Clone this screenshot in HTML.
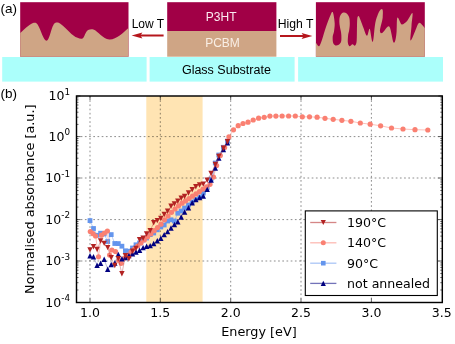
<!DOCTYPE html>
<html lang="en"><head><meta charset="utf-8"><title>Figure</title>
<style>html,body{margin:0;padding:0;background:#fff}body{width:455px;height:344px;overflow:hidden}svg{display:block;opacity:0.999;will-change:transform}.dv{font-family:"DejaVu Sans","Liberation Sans",sans-serif;fill:#000}.lb{font-family:"Liberation Sans",sans-serif;fill:#000}</style></head><body>
<svg width="455" height="344" viewBox="0 0 455 344">
<rect width="455" height="344" fill="#fff"/>
<g id="schematic">
<rect x="2.2" y="57" width="144.4" height="24.6" fill="#abfffb"/>
<rect x="149.6" y="57" width="145" height="24.6" fill="#abfffb"/>
<rect x="298.1" y="57" width="144.9" height="24.6" fill="#abfffb"/>
<rect x="20.2" y="2.2" width="108.3" height="54.5" fill="#a10046"/>
<path fill="#cfa585" d="M20.2 56.7V33 C24 29.5 29 24.6 33 23 C35 22.3 36.6 22.6 37.6 24.5 C41 30 43.5 40.8 46.6 40.8 C49.6 40.8 51.5 25 55 23 C57 22.2 59 22.4 61 24.2 C67 28.5 72 36 77.6 37.8 C79.5 38.6 81 39 82.5 38.5 C84.5 37.5 85.5 31 88.1 29.9 C90 29.2 92 29.2 93.4 29.5 C98 31 103 39 109.2 39.5 C116 40 123 33 128.5 28.1 V56.7Z"/>
<rect x="167.2" y="2.2" width="109.2" height="28.8" fill="#a10046"/>
<rect x="167.2" y="31" width="109.2" height="25.7" fill="#cfa585"/>
<rect x="315.9" y="2.2" width="108.9" height="54.5" fill="#a10046"/>
<path fill="#cfa585" d="M315.9 56.7V42.5C316.1 42.9 316.8 44.2 317.3 44.8C317.8 45.4 318.4 46.7 319.1 46.2C319.8 45.7 320.3 44.5 321.3 41.8C322.3 39.1 323.7 33.8 324.9 30.2C326.1 26.6 327.4 22.8 328.5 20.0C329.6 17.2 330.6 14.7 331.2 13.4C331.8 12.1 332.0 11.9 332.4 12.0C332.8 12.1 333.0 12.1 333.4 14.0C333.8 15.9 334.6 20.5 334.7 23.4C334.8 26.3 334.3 29.2 334.0 31.4C333.7 33.6 332.8 34.9 332.7 36.8C332.6 38.7 332.7 41.3 333.1 42.8C333.6 44.2 334.5 45.2 335.4 45.5C336.3 45.8 337.8 45.4 338.7 44.8C339.6 44.2 340.6 43.2 341.0 42.1C341.4 41.0 341.4 39.5 341.4 38.0C341.4 36.5 341.4 34.8 341.1 32.8C340.8 30.8 340.1 28.3 339.8 26.1C339.5 23.9 339.2 21.3 339.4 19.4C339.5 17.5 340.0 15.8 340.7 14.7C341.4 13.5 342.4 12.7 343.4 12.5C344.4 12.3 345.7 12.6 346.7 13.4C347.7 14.2 348.7 15.7 349.2 17.4C349.7 19.1 349.8 21.3 349.8 23.4C349.8 25.5 349.5 28.1 349.2 30.1C348.9 32.1 348.3 33.5 348.1 35.5C347.9 37.5 347.7 40.5 347.8 42.1C347.9 43.7 348.3 44.6 348.7 45.3C349.1 46.0 349.4 46.4 350.0 46.2C350.6 46.0 351.7 44.3 352.5 44.2C353.3 44.1 354.1 45.9 354.7 45.7C355.3 45.5 355.9 44.6 356.3 43.2C356.7 41.8 356.7 40.3 356.8 37.4C356.9 34.5 356.9 28.9 357.0 25.8C357.1 22.7 357.1 20.1 357.3 18.5C357.5 16.9 357.8 16.3 358.2 16.2C358.6 16.1 358.7 15.8 359.6 17.8C360.5 19.8 362.9 26.3 363.5 28.0 C364.8 31.5 366 35.8 367 35.8 C368 35.8 368.8 28.8 369.6 28.8 C370.5 28.8 371.5 41.9 372.6 41.9 C373.6 41.9 374 32 374.8 26.2 C375.5 21 376.3 18.5 377.4 15.7 C378.6 12.5 380.5 9.1 381.8 9.1 C383.2 9.1 383 13.5 382.7 17.4 C382.3 22 379.5 29 380 31.4 C380.3 33 381 33.3 381.8 33.1 C384 32.5 386.5 26.2 388.8 26.2 C391 26.2 392.5 42.7 394 42.7 C395.3 42.7 396.3 36 396.6 31.4 C397 26 396.6 17.4 397.5 17.4 C398.8 17.4 400.5 24.4 401.9 24.4 C403.5 24.4 405.5 22.5 407.1 20.9 C409 19 411.3 13.1 412.3 13.1 C413.3 13.1 411.8 21 411.5 26.2 C411.2 31 409.8 40.5 410.6 40.5 C411.6 40.5 413.5 34.5 415 31.4 C416.5 28 418 22.7 419.3 22.7 C421 22.7 423 26 424.8 27.9 V56.7Z"/>
<path d="M163.6 35.5H139" stroke="#b5161c" stroke-width="2" fill="none"/>
<path d="M131.6 35.5L142.4 32.5L140.4 35.5L142.4 38.5Z" fill="#b5161c"/>
<path d="M280 36H305" stroke="#b5161c" stroke-width="2" fill="none"/>
<path d="M312.4 36L301.6 33L303.6 36L301.6 39Z" fill="#b5161c"/>
<text class="lb" x="0.5" y="13" font-size="13.5">(a)</text>
<text class="lb" x="147.9" y="27.5" font-size="12" text-anchor="middle">Low T</text>
<text class="lb" x="295.5" y="28.3" font-size="12.2" text-anchor="middle">High T</text>
<text class="lb" x="221.2" y="20.9" font-size="12" text-anchor="middle" style="fill:#fbeaf0">P3HT</text>
<text class="lb" x="222.5" y="47.1" font-size="12" text-anchor="middle" style="fill:#f9efe6">PCBM</text>
<text class="lb" x="226.4" y="73.7" font-size="12.5" text-anchor="middle">Glass Substrate</text>
</g>
<g id="plot">
<text class="lb" x="0.5" y="97.5" font-size="13.5">(b)</text>
<rect x="146.3" y="96.0" width="56.3" height="206.5" fill="#ffe4b3"/>
<path d="M90.0 96.0V302.5M160.3 96.0V302.5M230.7 96.0V302.5M301.0 96.0V302.5M371.4 96.0V302.5M76.5 136.6H442.3M76.5 178.0H442.3M76.5 219.6H442.3M76.5 261.0H442.3" stroke="#000" stroke-opacity="0.5" stroke-width="0.9" stroke-dasharray="1.7 2.5" fill="none"/>
<path d="M90.0 302.5v-4M90.0 96.0v4M160.3 302.5v-4M160.3 96.0v4M230.7 302.5v-4M230.7 96.0v4M301.0 302.5v-4M301.0 96.0v4M371.4 302.5v-4M371.4 96.0v4M76.5 96.0h4M442.3 96.0h-4M76.5 136.6h4M442.3 136.6h-4M76.5 178.0h4M442.3 178.0h-4M76.5 219.6h4M442.3 219.6h-4M76.5 261.0h4M442.3 261.0h-4M76.5 302.5h4M442.3 302.5h-4M76.5 124.4h2M442.3 124.4h-2M76.5 117.2h2M442.3 117.2h-2M76.5 112.2h2M442.3 112.2h-2M76.5 108.2h2M442.3 108.2h-2M76.5 105.0h2M442.3 105.0h-2M76.5 102.3h2M442.3 102.3h-2M76.5 99.9h2M442.3 99.9h-2M76.5 97.9h2M442.3 97.9h-2M76.5 165.5h2M442.3 165.5h-2M76.5 158.2h2M442.3 158.2h-2M76.5 153.1h2M442.3 153.1h-2M76.5 149.1h2M442.3 149.1h-2M76.5 145.8h2M442.3 145.8h-2M76.5 143.0h2M442.3 143.0h-2M76.5 140.6h2M442.3 140.6h-2M76.5 138.5h2M442.3 138.5h-2M76.5 207.1h2M442.3 207.1h-2M76.5 199.8h2M442.3 199.8h-2M76.5 194.6h2M442.3 194.6h-2M76.5 190.5h2M442.3 190.5h-2M76.5 187.2h2M442.3 187.2h-2M76.5 184.4h2M442.3 184.4h-2M76.5 182.0h2M442.3 182.0h-2M76.5 179.9h2M442.3 179.9h-2M76.5 248.5h2M442.3 248.5h-2M76.5 241.2h2M442.3 241.2h-2M76.5 236.1h2M442.3 236.1h-2M76.5 232.1h2M442.3 232.1h-2M76.5 228.8h2M442.3 228.8h-2M76.5 226.0h2M442.3 226.0h-2M76.5 223.6h2M442.3 223.6h-2M76.5 221.5h2M442.3 221.5h-2M76.5 290.0h2M442.3 290.0h-2M76.5 282.7h2M442.3 282.7h-2M76.5 277.5h2M442.3 277.5h-2M76.5 273.5h2M442.3 273.5h-2M76.5 270.2h2M442.3 270.2h-2M76.5 267.4h2M442.3 267.4h-2M76.5 265.0h2M442.3 265.0h-2M76.5 262.9h2M442.3 262.9h-2" stroke="#000" stroke-width="0.6" fill="none"/>
<polyline points="90.0,220.6 93.5,228.5 97.1,235.3 100.6,233.2 104.2,234.0 107.7,241.5 111.2,234.6 114.8,243.5 118.3,243.6 121.9,246.2 125.4,250.8 128.9,251.2 132.5,248.0 136.0,244.8 139.6,243.0 143.1,240.0 146.6,238.0 150.2,234.6 153.7,233.0 157.3,229.8 160.8,227.0 164.2,225.0 167.6,221.0 171.0,219.8 174.4,221.0 177.8,213.2 181.2,211.0 184.6,208.0 188.5,205.0 192.2,202.0 195.8,199.5 199.6,197.0 203.3,193.0 207.2,187.5 211.1,179.0 215.3,163.0 218.8,155.0 223.4,147.3 227.5,141.0" fill="none" stroke="#6495ed" stroke-opacity="0.50" stroke-width="0.9"/>
<g><rect x="87.6" y="218.2" width="4.8" height="4.8" fill="#6495ed"/><rect x="91.1" y="226.1" width="4.8" height="4.8" fill="#6495ed"/><rect x="94.7" y="232.9" width="4.8" height="4.8" fill="#6495ed"/><rect x="98.2" y="230.8" width="4.8" height="4.8" fill="#6495ed"/><rect x="101.8" y="231.6" width="4.8" height="4.8" fill="#6495ed"/><rect x="105.3" y="239.1" width="4.8" height="4.8" fill="#6495ed"/><rect x="108.8" y="232.2" width="4.8" height="4.8" fill="#6495ed"/><rect x="112.4" y="241.1" width="4.8" height="4.8" fill="#6495ed"/><rect x="115.9" y="241.2" width="4.8" height="4.8" fill="#6495ed"/><rect x="119.5" y="243.8" width="4.8" height="4.8" fill="#6495ed"/><rect x="123.0" y="248.4" width="4.8" height="4.8" fill="#6495ed"/><rect x="126.5" y="248.8" width="4.8" height="4.8" fill="#6495ed"/><rect x="130.1" y="245.6" width="4.8" height="4.8" fill="#6495ed"/><rect x="133.6" y="242.4" width="4.8" height="4.8" fill="#6495ed"/><rect x="137.2" y="240.6" width="4.8" height="4.8" fill="#6495ed"/><rect x="140.7" y="237.6" width="4.8" height="4.8" fill="#6495ed"/><rect x="144.2" y="235.6" width="4.8" height="4.8" fill="#6495ed"/><rect x="147.8" y="232.2" width="4.8" height="4.8" fill="#6495ed"/><rect x="151.3" y="230.6" width="4.8" height="4.8" fill="#6495ed"/><rect x="154.9" y="227.4" width="4.8" height="4.8" fill="#6495ed"/><rect x="158.4" y="224.6" width="4.8" height="4.8" fill="#6495ed"/><rect x="161.8" y="222.6" width="4.8" height="4.8" fill="#6495ed"/><rect x="165.2" y="218.6" width="4.8" height="4.8" fill="#6495ed"/><rect x="168.6" y="217.4" width="4.8" height="4.8" fill="#6495ed"/><rect x="172.0" y="218.6" width="4.8" height="4.8" fill="#6495ed"/><rect x="175.4" y="210.8" width="4.8" height="4.8" fill="#6495ed"/><rect x="178.8" y="208.6" width="4.8" height="4.8" fill="#6495ed"/><rect x="182.2" y="205.6" width="4.8" height="4.8" fill="#6495ed"/><rect x="186.1" y="202.6" width="4.8" height="4.8" fill="#6495ed"/><rect x="189.8" y="199.6" width="4.8" height="4.8" fill="#6495ed"/><rect x="193.4" y="197.1" width="4.8" height="4.8" fill="#6495ed"/><rect x="197.2" y="194.6" width="4.8" height="4.8" fill="#6495ed"/><rect x="200.9" y="190.6" width="4.8" height="4.8" fill="#6495ed"/><rect x="204.8" y="185.1" width="4.8" height="4.8" fill="#6495ed"/><rect x="208.7" y="176.6" width="4.8" height="4.8" fill="#6495ed"/><rect x="212.9" y="160.6" width="4.8" height="4.8" fill="#6495ed"/><rect x="216.4" y="152.6" width="4.8" height="4.8" fill="#6495ed"/><rect x="221.0" y="144.9" width="4.8" height="4.8" fill="#6495ed"/><rect x="225.1" y="138.6" width="4.8" height="4.8" fill="#6495ed"/></g>
<polyline points="90.3,231.5 93.0,233.7 95.6,236.0 98.5,256.8 101.5,235.2 104.4,233.0 107.4,231.0 109.6,255.0 111.9,250.0 115.5,251.5 118.9,260.3 121.2,263.3 124.5,258.0 127.8,255.0 131.1,252.0 134.4,249.0 137.7,246.0 141.0,243.0 144.3,239.9 147.6,236.8 150.9,233.8 154.2,230.7 157.5,227.6 161.0,224.2 164.5,219.8 168.0,216.0 171.5,212.3 175.0,209.0 178.5,205.8 182.0,203.2 185.5,200.9 189.0,198.6 192.5,196.2 196.0,193.9 199.5,191.5 203.0,189.1 206.5,186.8 210.0,184.3 213.5,177.0 216.6,165.5 220.3,155.5 224.6,147.5 228.9,136.8 233.5,129.8 238.2,125.7 243.0,123.5 248.0,122.2 253.2,120.0 258.6,118.2 264.2,117.3 269.9,116.1 275.9,116.1 282.1,116.0 288.6,116.0 295.3,116.0 302.3,116.8 309.5,116.8 317.1,117.2 325.0,118.3 333.2,119.3 341.9,120.3 350.9,121.3 360.3,123.0 370.2,124.2 380.6,125.8 391.5,128.0 403.0,129.0 415.0,129.7 427.8,130.0" fill="none" stroke="#fa8072" stroke-opacity="0.55" stroke-width="0.9"/>
<g><circle cx="90.3" cy="231.5" r="2.6" fill="#fa8072"/><circle cx="93.0" cy="233.7" r="2.6" fill="#fa8072"/><circle cx="95.6" cy="236.0" r="2.6" fill="#fa8072"/><circle cx="98.5" cy="256.8" r="2.6" fill="#fa8072"/><circle cx="101.5" cy="235.2" r="2.6" fill="#fa8072"/><circle cx="104.4" cy="233.0" r="2.6" fill="#fa8072"/><circle cx="107.4" cy="231.0" r="2.6" fill="#fa8072"/><circle cx="109.6" cy="255.0" r="2.6" fill="#fa8072"/><circle cx="111.9" cy="250.0" r="2.6" fill="#fa8072"/><circle cx="115.5" cy="251.5" r="2.6" fill="#fa8072"/><circle cx="118.9" cy="260.3" r="2.6" fill="#fa8072"/><circle cx="121.2" cy="263.3" r="2.6" fill="#fa8072"/><circle cx="124.5" cy="258.0" r="2.6" fill="#fa8072"/><circle cx="127.8" cy="255.0" r="2.6" fill="#fa8072"/><circle cx="131.1" cy="252.0" r="2.6" fill="#fa8072"/><circle cx="134.4" cy="249.0" r="2.6" fill="#fa8072"/><circle cx="137.7" cy="246.0" r="2.6" fill="#fa8072"/><circle cx="141.0" cy="243.0" r="2.6" fill="#fa8072"/><circle cx="144.3" cy="239.9" r="2.6" fill="#fa8072"/><circle cx="147.6" cy="236.8" r="2.6" fill="#fa8072"/><circle cx="150.9" cy="233.8" r="2.6" fill="#fa8072"/><circle cx="154.2" cy="230.7" r="2.6" fill="#fa8072"/><circle cx="157.5" cy="227.6" r="2.6" fill="#fa8072"/><circle cx="161.0" cy="224.2" r="2.6" fill="#fa8072"/><circle cx="164.5" cy="219.8" r="2.6" fill="#fa8072"/><circle cx="168.0" cy="216.0" r="2.6" fill="#fa8072"/><circle cx="171.5" cy="212.3" r="2.6" fill="#fa8072"/><circle cx="175.0" cy="209.0" r="2.6" fill="#fa8072"/><circle cx="178.5" cy="205.8" r="2.6" fill="#fa8072"/><circle cx="182.0" cy="203.2" r="2.6" fill="#fa8072"/><circle cx="185.5" cy="200.9" r="2.6" fill="#fa8072"/><circle cx="189.0" cy="198.6" r="2.6" fill="#fa8072"/><circle cx="192.5" cy="196.2" r="2.6" fill="#fa8072"/><circle cx="196.0" cy="193.9" r="2.6" fill="#fa8072"/><circle cx="199.5" cy="191.5" r="2.6" fill="#fa8072"/><circle cx="203.0" cy="189.1" r="2.6" fill="#fa8072"/><circle cx="206.5" cy="186.8" r="2.6" fill="#fa8072"/><circle cx="210.0" cy="184.3" r="2.6" fill="#fa8072"/><circle cx="213.5" cy="177.0" r="2.6" fill="#fa8072"/><circle cx="216.6" cy="165.5" r="2.6" fill="#fa8072"/><circle cx="220.3" cy="155.5" r="2.6" fill="#fa8072"/><circle cx="224.6" cy="147.5" r="2.6" fill="#fa8072"/><circle cx="228.9" cy="136.8" r="2.6" fill="#fa8072"/><circle cx="233.5" cy="129.8" r="2.6" fill="#fa8072"/><circle cx="238.2" cy="125.7" r="2.6" fill="#fa8072"/><circle cx="243.0" cy="123.5" r="2.6" fill="#fa8072"/><circle cx="248.0" cy="122.2" r="2.6" fill="#fa8072"/><circle cx="253.2" cy="120.0" r="2.6" fill="#fa8072"/><circle cx="258.6" cy="118.2" r="2.6" fill="#fa8072"/><circle cx="264.2" cy="117.3" r="2.6" fill="#fa8072"/><circle cx="269.9" cy="116.1" r="2.6" fill="#fa8072"/><circle cx="275.9" cy="116.1" r="2.6" fill="#fa8072"/><circle cx="282.1" cy="116.0" r="2.6" fill="#fa8072"/><circle cx="288.6" cy="116.0" r="2.6" fill="#fa8072"/><circle cx="295.3" cy="116.0" r="2.6" fill="#fa8072"/><circle cx="302.3" cy="116.8" r="2.6" fill="#fa8072"/><circle cx="309.5" cy="116.8" r="2.6" fill="#fa8072"/><circle cx="317.1" cy="117.2" r="2.6" fill="#fa8072"/><circle cx="325.0" cy="118.3" r="2.6" fill="#fa8072"/><circle cx="333.2" cy="119.3" r="2.6" fill="#fa8072"/><circle cx="341.9" cy="120.3" r="2.6" fill="#fa8072"/><circle cx="350.9" cy="121.3" r="2.6" fill="#fa8072"/><circle cx="360.3" cy="123.0" r="2.6" fill="#fa8072"/><circle cx="370.2" cy="124.2" r="2.6" fill="#fa8072"/><circle cx="380.6" cy="125.8" r="2.6" fill="#fa8072"/><circle cx="391.5" cy="128.0" r="2.6" fill="#fa8072"/><circle cx="403.0" cy="129.0" r="2.6" fill="#fa8072"/><circle cx="415.0" cy="129.7" r="2.6" fill="#fa8072"/><circle cx="427.8" cy="130.0" r="2.6" fill="#fa8072"/></g>
<polyline points="90.0,255.7 93.5,256.8 97.1,265.2 100.6,263.3 104.2,259.3 107.7,269.2 111.2,264.5 114.8,263.0 118.3,254.4 121.9,258.8 125.4,257.5 128.9,255.5 132.5,253.9 136.0,252.0 139.6,250.3 143.1,247.6 146.6,246.3 150.2,245.6 153.7,243.5 157.3,240.8 160.8,238.2 164.2,234.6 167.6,231.6 171.0,228.0 174.4,224.5 177.8,221.8 181.2,217.0 184.6,212.0 188.5,207.8 192.2,202.8 195.8,199.6 199.6,197.5 203.3,196.0 207.2,189.4 211.1,180.0 215.3,168.0 218.8,158.0 223.4,149.5 227.5,142.8" fill="none" stroke="#000080" stroke-opacity="0.30" stroke-width="0.9"/>
<g><path d="M87.3 258.4L92.7 258.4L90.0 253.0Z" fill="#000080"/><path d="M90.8 259.5L96.2 259.5L93.5 254.1Z" fill="#000080"/><path d="M94.4 267.9L99.8 267.9L97.1 262.5Z" fill="#000080"/><path d="M97.9 266.0L103.3 266.0L100.6 260.6Z" fill="#000080"/><path d="M101.5 262.0L106.9 262.0L104.2 256.6Z" fill="#000080"/><path d="M105.0 271.9L110.4 271.9L107.7 266.5Z" fill="#000080"/><path d="M108.5 267.2L113.9 267.2L111.2 261.8Z" fill="#000080"/><path d="M112.1 265.7L117.5 265.7L114.8 260.3Z" fill="#000080"/><path d="M115.6 257.1L121.0 257.1L118.3 251.7Z" fill="#000080"/><path d="M119.2 261.5L124.6 261.5L121.9 256.1Z" fill="#000080"/><path d="M122.7 260.2L128.1 260.2L125.4 254.8Z" fill="#000080"/><path d="M126.2 258.2L131.6 258.2L128.9 252.8Z" fill="#000080"/><path d="M129.8 256.6L135.2 256.6L132.5 251.2Z" fill="#000080"/><path d="M133.3 254.7L138.7 254.7L136.0 249.3Z" fill="#000080"/><path d="M136.9 253.0L142.3 253.0L139.6 247.6Z" fill="#000080"/><path d="M140.4 250.3L145.8 250.3L143.1 244.9Z" fill="#000080"/><path d="M143.9 249.0L149.3 249.0L146.6 243.6Z" fill="#000080"/><path d="M147.5 248.3L152.9 248.3L150.2 242.9Z" fill="#000080"/><path d="M151.0 246.2L156.4 246.2L153.7 240.8Z" fill="#000080"/><path d="M154.6 243.5L160.0 243.5L157.3 238.1Z" fill="#000080"/><path d="M158.1 240.9L163.5 240.9L160.8 235.5Z" fill="#000080"/><path d="M161.5 237.3L166.9 237.3L164.2 231.9Z" fill="#000080"/><path d="M164.9 234.3L170.3 234.3L167.6 228.9Z" fill="#000080"/><path d="M168.3 230.7L173.7 230.7L171.0 225.3Z" fill="#000080"/><path d="M171.7 227.2L177.1 227.2L174.4 221.8Z" fill="#000080"/><path d="M175.1 224.5L180.5 224.5L177.8 219.1Z" fill="#000080"/><path d="M178.5 219.7L183.9 219.7L181.2 214.3Z" fill="#000080"/><path d="M181.9 214.7L187.3 214.7L184.6 209.3Z" fill="#000080"/><path d="M185.8 210.5L191.2 210.5L188.5 205.1Z" fill="#000080"/><path d="M189.5 205.5L194.9 205.5L192.2 200.1Z" fill="#000080"/><path d="M193.1 202.3L198.5 202.3L195.8 196.9Z" fill="#000080"/><path d="M196.9 200.2L202.3 200.2L199.6 194.8Z" fill="#000080"/><path d="M200.6 198.7L206.0 198.7L203.3 193.3Z" fill="#000080"/><path d="M204.5 192.1L209.9 192.1L207.2 186.7Z" fill="#000080"/><path d="M208.4 182.7L213.8 182.7L211.1 177.3Z" fill="#000080"/><path d="M212.6 170.7L218.0 170.7L215.3 165.3Z" fill="#000080"/><path d="M216.1 160.7L221.5 160.7L218.8 155.3Z" fill="#000080"/><path d="M220.7 152.2L226.1 152.2L223.4 146.8Z" fill="#000080"/><path d="M224.8 145.5L230.2 145.5L227.5 140.1Z" fill="#000080"/></g>
<polyline points="90.0,249.9 93.5,246.7 97.1,249.5 100.6,241.0 104.2,243.4 107.7,247.6 111.2,257.8 114.8,265.5 118.3,258.6 121.9,273.8 125.4,255.8 128.9,258.7 132.5,251.3 136.0,248.4 139.6,239.8 143.1,238.2 146.6,234.0 150.2,230.8 153.7,222.8 157.3,220.6 160.8,218.5 164.2,214.5 167.6,211.2 171.0,206.3 174.4,204.0 177.8,201.3 181.2,198.2 184.6,196.5 188.5,193.0 192.2,189.8 195.8,186.8 199.6,185.0 203.3,184.1 207.2,180.2 211.1,173.5 215.3,164.5 218.8,156.4 223.4,148.3 227.5,141.7" fill="none" stroke="#b22222" stroke-opacity="0.40" stroke-width="0.9"/>
<g><path d="M87.3 247.2L92.7 247.2L90.0 252.6Z" fill="#b22222"/><path d="M90.8 244.0L96.2 244.0L93.5 249.4Z" fill="#b22222"/><path d="M94.4 246.8L99.8 246.8L97.1 252.2Z" fill="#b22222"/><path d="M97.9 238.3L103.3 238.3L100.6 243.7Z" fill="#b22222"/><path d="M101.5 240.7L106.9 240.7L104.2 246.1Z" fill="#b22222"/><path d="M105.0 244.9L110.4 244.9L107.7 250.3Z" fill="#b22222"/><path d="M108.5 255.1L113.9 255.1L111.2 260.5Z" fill="#b22222"/><path d="M112.1 262.8L117.5 262.8L114.8 268.2Z" fill="#b22222"/><path d="M115.6 255.9L121.0 255.9L118.3 261.3Z" fill="#b22222"/><path d="M119.2 271.1L124.6 271.1L121.9 276.5Z" fill="#b22222"/><path d="M122.7 253.1L128.1 253.1L125.4 258.5Z" fill="#b22222"/><path d="M126.2 256.0L131.6 256.0L128.9 261.4Z" fill="#b22222"/><path d="M129.8 248.6L135.2 248.6L132.5 254.0Z" fill="#b22222"/><path d="M133.3 245.7L138.7 245.7L136.0 251.1Z" fill="#b22222"/><path d="M136.9 237.1L142.3 237.1L139.6 242.5Z" fill="#b22222"/><path d="M140.4 235.5L145.8 235.5L143.1 240.9Z" fill="#b22222"/><path d="M143.9 231.3L149.3 231.3L146.6 236.7Z" fill="#b22222"/><path d="M147.5 228.1L152.9 228.1L150.2 233.5Z" fill="#b22222"/><path d="M151.0 220.1L156.4 220.1L153.7 225.5Z" fill="#b22222"/><path d="M154.6 217.9L160.0 217.9L157.3 223.3Z" fill="#b22222"/><path d="M158.1 215.8L163.5 215.8L160.8 221.2Z" fill="#b22222"/><path d="M161.5 211.8L166.9 211.8L164.2 217.2Z" fill="#b22222"/><path d="M164.9 208.5L170.3 208.5L167.6 213.9Z" fill="#b22222"/><path d="M168.3 203.6L173.7 203.6L171.0 209.0Z" fill="#b22222"/><path d="M171.7 201.3L177.1 201.3L174.4 206.7Z" fill="#b22222"/><path d="M175.1 198.6L180.5 198.6L177.8 204.0Z" fill="#b22222"/><path d="M178.5 195.5L183.9 195.5L181.2 200.9Z" fill="#b22222"/><path d="M181.9 193.8L187.3 193.8L184.6 199.2Z" fill="#b22222"/><path d="M185.8 190.3L191.2 190.3L188.5 195.7Z" fill="#b22222"/><path d="M189.5 187.1L194.9 187.1L192.2 192.5Z" fill="#b22222"/><path d="M193.1 184.1L198.5 184.1L195.8 189.5Z" fill="#b22222"/><path d="M196.9 182.3L202.3 182.3L199.6 187.7Z" fill="#b22222"/><path d="M200.6 181.4L206.0 181.4L203.3 186.8Z" fill="#b22222"/><path d="M204.5 177.5L209.9 177.5L207.2 182.9Z" fill="#b22222"/><path d="M208.4 170.8L213.8 170.8L211.1 176.2Z" fill="#b22222"/><path d="M212.6 161.8L218.0 161.8L215.3 167.2Z" fill="#b22222"/><path d="M216.1 153.7L221.5 153.7L218.8 159.1Z" fill="#b22222"/><path d="M220.7 145.6L226.1 145.6L223.4 151.0Z" fill="#b22222"/><path d="M224.8 139.0L230.2 139.0L227.5 144.4Z" fill="#b22222"/></g>
<rect x="76.5" y="96.0" width="365.8" height="206.5" fill="none" stroke="#000" stroke-width="1.45"/>
<text class="dv" x="90.0" y="317.4" font-size="12.5" text-anchor="middle">1.0</text>
<text class="dv" x="160.3" y="317.4" font-size="12.5" text-anchor="middle">1.5</text>
<text class="dv" x="230.7" y="317.4" font-size="12.5" text-anchor="middle">2.0</text>
<text class="dv" x="301.0" y="317.4" font-size="12.5" text-anchor="middle">2.5</text>
<text class="dv" x="371.4" y="317.4" font-size="12.5" text-anchor="middle">3.0</text>
<text class="dv" x="441.8" y="317.4" font-size="12.5" text-anchor="middle">3.5</text>
<text class="dv" x="70" y="100.1" font-size="12.5" text-anchor="end">10<tspan dy="-5.4" font-size="8.8">1</tspan></text>
<text class="dv" x="70" y="140.7" font-size="12.5" text-anchor="end">10<tspan dy="-5.4" font-size="8.8">0</tspan></text>
<text class="dv" x="70" y="182.1" font-size="12.5" text-anchor="end">10<tspan dy="-5.4" font-size="8.8">-1</tspan></text>
<text class="dv" x="70" y="223.7" font-size="12.5" text-anchor="end">10<tspan dy="-5.4" font-size="8.8">-2</tspan></text>
<text class="dv" x="70" y="265.1" font-size="12.5" text-anchor="end">10<tspan dy="-5.4" font-size="8.8">-3</tspan></text>
<text class="dv" x="70" y="306.6" font-size="12.5" text-anchor="end">10<tspan dy="-5.4" font-size="8.8">-4</tspan></text>
<text class="dv" x="259" y="336.3" font-size="12.8" text-anchor="middle">Energy [eV]</text>
<text class="dv" transform="translate(34.4 199.2) rotate(-90)" font-size="12.8" text-anchor="middle">Normalised absorbance [a.u.]</text>
<rect x="305.3" y="210.9" width="132" height="84.6" fill="#fff" stroke="#000" stroke-width="1.1"/>
<path d="M310.2 222.5H336.4" stroke="#b22222" stroke-opacity="0.55" stroke-width="1.3"/>
<path d="M320.7 219.9L325.9 219.9L323.3 225.1Z" fill="#b22222"/>
<text class="dv" x="347" y="227.1" font-size="12.6">190°C</text>
<path d="M310.2 242.8H336.4" stroke="#fa8072" stroke-opacity="0.55" stroke-width="1.3"/>
<circle cx="323.3" cy="242.8" r="2.5" fill="#fa8072"/>
<text class="dv" x="347" y="247.4" font-size="12.6">140°C</text>
<path d="M310.2 263.2H336.4" stroke="#6495ed" stroke-opacity="0.55" stroke-width="1.3"/>
<rect x="321.0" y="260.9" width="4.6" height="4.6" fill="#6495ed"/>
<text class="dv" x="347" y="267.8" font-size="12.6">90°C</text>
<path d="M310.2 283.4H336.4" stroke="#000080" stroke-opacity="0.55" stroke-width="1.3"/>
<path d="M320.7 286.0L325.9 286.0L323.3 280.8Z" fill="#000080"/>
<text class="dv" x="347" y="288.0" font-size="12.6">not annealed</text>
</g>
</svg></body></html>
